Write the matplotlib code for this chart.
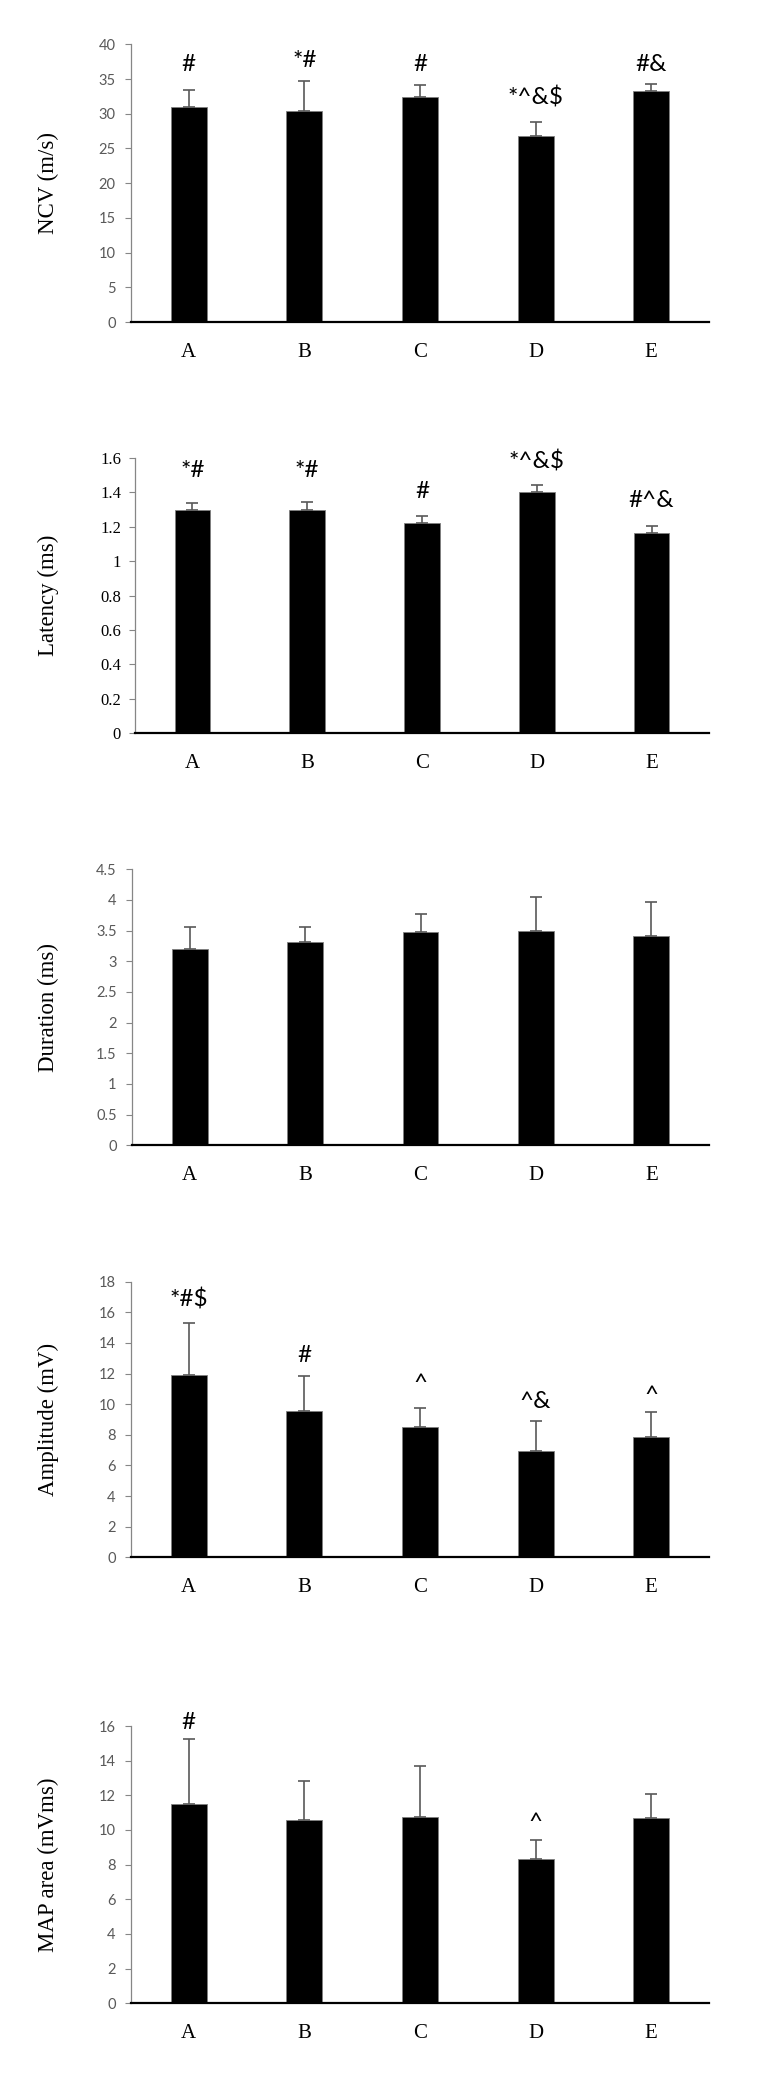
import numpy as np
import matplotlib
matplotlib.use("Agg")
import matplotlib.pyplot as plt

groups = ["A", "B", "C", "D", "E"]

# NCV (m/s)
ncv_mean = [31.0, 30.45, 32.4, 26.8, 33.25]
ncv_err = [2.4, 4.2, 1.7, 1.95, 1.1]
ncv_marks = ["#", "*#", "#", "*^&$", "#&"]
ncv_mark_y = [36.1, 36.8, 36.1, 31.3, 36.1]

# Latency (ms)
lat_mean = [1.298, 1.300, 1.221, 1.401, 1.163]
lat_err = [0.041, 0.043, 0.043, 0.043, 0.042]
lat_marks = ["*#", "*#", "#", "*^&$", "#^&"]
lat_mark_y = [1.492, 1.492, 1.366, 1.54, 1.318]

# Duration (ms)
dur_mean = [3.196, 3.32, 3.484, 3.495, 3.418]
dur_err = [0.369, 0.24, 0.293, 0.555, 0.542]

# Amplitude (mV)
amp_mean = [11.9, 9.58, 8.53, 6.97, 7.84]
amp_err = [3.4, 2.26, 1.24, 1.93, 1.65]
amp_marks = ["*#$", "#", "^", "^&", "^"]
amp_mark_y = [16.37, 12.78, 10.9, 9.73, 10.14]

# MAP area (mVms)
map_mean = [11.48, 10.56, 10.73, 8.33, 10.69]
map_err = [3.75, 2.29, 2.98, 1.07, 1.37]
map_marks = ["#", "", "", "^", ""]
map_mark_y = [15.8, 0, 0, 10.08, 0]

W, H = 783, 2076
fig = plt.figure(figsize=(W / 100, H / 100), dpi=100)

panels = [
    # (top px, bottom px, left px, mean, err, ymax, step, label, marks, mark_y, serif ticks)
    (44.3, 322.0, 131, ncv_mean, ncv_err, 40, 5, "NCV (m/s)", ncv_marks, ncv_mark_y, False),
    (458.0, 733.3, 135, lat_mean, lat_err, 1.6, 0.2, "Latency (ms)", lat_marks, lat_mark_y, True),
    (869.3, 1145.3, 132, dur_mean, dur_err, 4.5, 0.5, "Duration (ms)", None, None, False),
    (1281.7, 1557.3, 131, amp_mean, amp_err, 18, 2, "Amplitude (mV)", amp_marks, amp_mark_y, False),
    (1726.0, 2003.3, 131, map_mean, map_err, 16, 2, "MAP area (mVms)", map_marks, map_mark_y, False),
]

right = 709
x = np.arange(len(groups))

for top, bot, left, mean, err, ymax, step, label, marks, mark_y, serif in panels:
    ax = fig.add_axes([left / W, 1 - bot / H, (right - left) / W, (bot - top) / H])
    ax.bar(x, mean, width=0.31, color="black", edgecolor="#808080", linewidth=0.6, zorder=2)
    ax.errorbar(x, mean, yerr=[np.zeros(len(err)), err], fmt="none",
                ecolor="#595959", elinewidth=1.2, capsize=4.5, capthick=1.2, zorder=3)
    ax.set_xlim(-0.5, 4.5)
    ax.set_ylim(0, ymax)
    ticks = np.arange(0, ymax + step / 2, step)
    ax.set_yticks(ticks)
    ax.set_yticklabels(["%g" % round(t, 2) for t in ticks])
    ax.set_xticks(x)
    ax.set_xticklabels(groups, family="Liberation Serif", fontsize=15)
    ax.tick_params(axis="x", length=0, pad=15)
    if serif:
        ax.tick_params(axis="y", length=4, width=0.8, color="#868686", pad=6,
                       labelsize=12, labelcolor="black")
        for t in ax.get_yticklabels():
            t.set_family("Liberation Serif")
    else:
        ax.tick_params(axis="y", length=4, width=0.8, color="#868686", pad=7,
                       labelsize=10.5, labelcolor="#595959")
        for t in ax.get_yticklabels():
            t.set_family("Lato")
    for s in ["top", "right"]:
        ax.spines[s].set_visible(False)
    ax.spines["left"].set_color("#868686")
    ax.spines["left"].set_linewidth(0.9)
    ax.spines["bottom"].set_color("black")
    ax.spines["bottom"].set_linewidth(1.6)
    ax.spines["bottom"].set_zorder(4)
    ax.set_ylabel(label, family="Liberation Serif", fontsize=16.5)
    ax.yaxis.set_label_coords(-(left - 59) / (right - left), 0.5)
    if marks:
        for xi, m, my in zip(x, marks, mark_y):
            if m:
                ax.text(xi, my, m, ha="center", va="baseline", family="Lato",
                        fontsize=17.5, color="black")

fig.savefig("out.png", dpi=100)
